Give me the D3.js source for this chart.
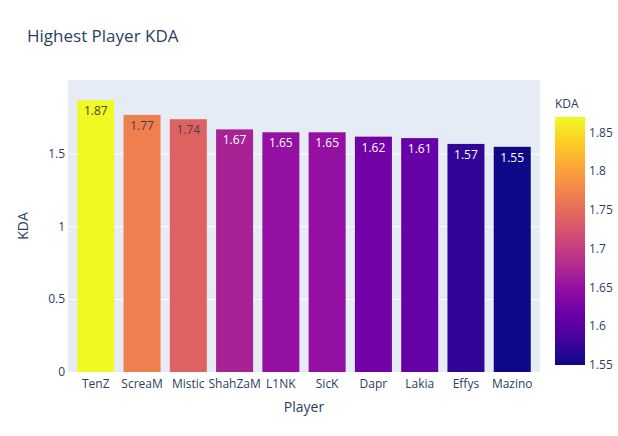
<!DOCTYPE html>
<html><head><meta charset="utf-8">
<script src="https://cdn.jsdelivr.net/npm/d3@7"></script>
<style>body{margin:0;background:#fff}text{font-family:"Open Sans",sans-serif}</style>
</head><body><svg id="c" width="618" height="436"></svg>
<script>
const players=["TenZ","ScreaM","Mistic","ShahZaM","L1NK","SicK","Dapr","Lakia","Effys","Mazino"];
const kda=[1.87,1.77,1.74,1.67,1.65,1.65,1.62,1.61,1.57,1.55];
const yTicks=[0,0.5,1,1.5];
const cbTicks=[1.55,1.6,1.65,1.7,1.75,1.8,1.85];
const svg=d3.select("#c");
const L=68,R=540,T=80,B=372;
const fc="#2a3f5f";
svg.append("rect").attr("x",L).attr("y",T).attr("width",R-L).attr("height",B-T).attr("fill","#e5ecf6");
const x=d3.scaleBand().domain(players).range([L,R]).padding(0.2);
const y=d3.scaleLinear().domain([0,2.01]).range([B,T]);
const cmin=d3.min(kda),cmax=d3.max(kda);
const col=v=>d3.interpolatePlasma((v-cmin)/(cmax-cmin));
yTicks.forEach(t=>{
  if(t>0)svg.append("line").attr("x1",L).attr("x2",R).attr("y1",y(t)).attr("y2",y(t)).attr("stroke","#fff");
  svg.append("text").attr("x",L-3).attr("y",y(t)+4).attr("text-anchor","end").attr("font-size",12).attr("fill",fc).text(t);
});
players.forEach((p,i)=>{
  const v=kda[i];
  svg.append("rect").attr("x",x(p)).attr("y",y(v)).attr("width",x.bandwidth()).attr("height",B-y(v)).attr("fill",col(v));
  const c=d3.hsl(col(v));
  svg.append("text").attr("x",x(p)+x.bandwidth()/2).attr("y",y(v)+15).attr("text-anchor","middle").attr("font-size",12)
    .attr("fill",c.l>0.55?"#444":"#fff").text(v.toFixed(2));
  svg.append("text").attr("x",x(p)+x.bandwidth()/2).attr("y",B+16).attr("text-anchor","middle").attr("font-size",12).attr("fill",fc).text(p);
});
svg.append("text").attr("x",27).attr("y",42).attr("font-size",17).attr("fill",fc).text("Highest Player KDA");
svg.append("text").attr("x",(L+R)/2).attr("y",412).attr("text-anchor","middle").attr("font-size",14).attr("fill",fc).text("Player");
svg.append("text").attr("transform","translate(28,226) rotate(-90)").attr("text-anchor","middle").attr("font-size",14).attr("fill",fc).text("KDA");
// colorbar
const cy=d3.scaleLinear().domain([cmin,cmax]).range([365,117]);
const defs=svg.append("defs").append("linearGradient").attr("id","g").attr("x1",0).attr("y1",1).attr("x2",0).attr("y2",0);
d3.range(0,1.01,0.1).forEach(s=>defs.append("stop").attr("offset",s).attr("stop-color",d3.interpolatePlasma(s)));
svg.append("rect").attr("x",555).attr("y",117).attr("width",30).attr("height",248).attr("fill","url(#g)");
svg.append("text").attr("x",555).attr("y",108).attr("font-size",12).attr("fill",fc).text("KDA");
cbTicks.forEach(t=>svg.append("text").attr("x",589).attr("y",cy(t)+4).attr("font-size",12).attr("fill",fc).text(t));
</script></body></html>
